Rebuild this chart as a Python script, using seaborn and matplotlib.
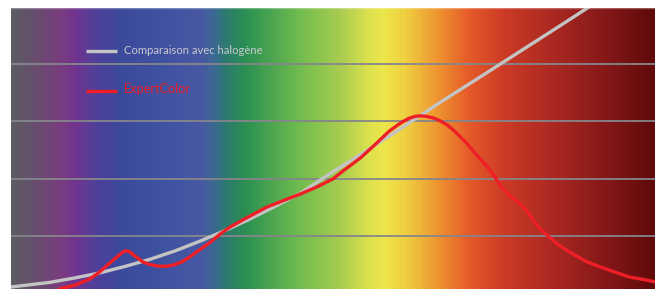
import numpy as np
import pandas as pd
import matplotlib
matplotlib.use("Agg")
import matplotlib.pyplot as plt
import seaborn as sns
from matplotlib.colors import LinearSegmentedColormap

# ── Data (wavelength in nm, relative intensity) ─────────────────────────────
halogen_nm = [380, 404, 420, 435, 451, 466, 482, 497, 513, 528, 544, 560,
              578, 597, 622, 646, 671, 696, 721, 738, 752]
halogen_val = [2.2, 3.8, 5.4, 7.1, 9.4, 11.8, 14.8, 18.1, 21.9, 25.8, 30.3,
               35.0, 41.7, 48.4, 57.4, 66.4, 75.3, 84.3, 93.3, 99.5, 104.4]

expert_nm = [398, 410, 420, 429, 435, 440, 445, 448, 450, 452, 454, 456, 459,
             462, 466, 471, 476, 481, 486, 491, 497, 504, 510, 516, 525, 539,
             560, 570, 580, 587, 597, 606, 615, 622, 627, 631, 634, 638, 642,
             646, 651, 656, 663, 669, 676, 681, 685, 690, 694, 697, 701, 705,
             710, 715, 720, 725, 730, 738, 746, 755, 764, 774, 780]
expert_val = [-4.0, 1.5, 2.9, 5.0, 7.4, 9.9, 12.3, 13.7, 14.6, 14.8, 14.4,
              13.4, 12.2, 10.9, 10.1, 9.5, 9.4, 9.9, 10.9, 12.7, 15.1, 17.9,
              20.7, 23.1, 25.9, 30.1, 34.7, 37.1, 39.9, 43.0, 47.2, 51.8, 56.6,
              59.4, 61.0, 61.7, 61.9, 61.7, 61.2, 60.3, 58.7, 56.3, 52.4, 48.3,
              44.1, 40.2, 36.8, 34.0, 32.2, 30.8, 28.4, 24.9, 21.7, 19.3, 16.9,
              15.1, 13.4, 10.9, 9.2, 7.4, 5.7, 4.7, 4.0]

series_labels = ["Comparaison avec halogène", "ExpertColor"]

# spectrum background colour stops (position 0..1 across the axis)
spectrum_pos = [0.0, 0.03, 0.076, 0.099, 0.130, 0.169, 0.231, 0.293, 0.316,
                0.332, 0.363, 0.402, 0.449, 0.511, 0.557, 0.581, 0.612, 0.640,
                0.664, 0.713, 0.768, 0.837, 0.915, 1.0]
spectrum_col = ["#5c5c62", "#664f6c", "#7a3c80", "#703590", "#50409a",
                "#3c4a9c", "#3f52a0", "#4858a4", "#3a6a92", "#2d7a70",
                "#2a8f52", "#4aa550", "#72bd4e", "#a8cc50", "#dde24e",
                "#ede64a", "#efd040", "#eeb038", "#ee9430", "#e65a2a",
                "#cc3a25", "#ad2a22", "#8a1a1a", "#600a0a"]

X_LIM = (380, 780)
Y_LIM = (1.5, 99.5)

# ── Figure ──────────────────────────────────────────────────────────────────
sns.set_theme(style="white")
plt.rcParams["font.family"] = ["Lato", "DejaVu Sans"]

fig = plt.figure(figsize=(6.64, 2.89), dpi=100)
ax = fig.add_axes([11 / 664, 0, 644 / 664, 281 / 289])

cmap = LinearSegmentedColormap.from_list("spectrum", list(zip(spectrum_pos, spectrum_col)))
ax.imshow(np.linspace(0, 1, 600)[None, :], cmap=cmap, aspect="auto",
          extent=[X_LIM[0], X_LIM[1], Y_LIM[0], Y_LIM[1]], zorder=0)

for yv in [20, 40, 60, 80]:
    ax.axhline(yv, color="#85868c", lw=1.3, zorder=1)

halogen = pd.DataFrame({"nm": halogen_nm, "val": halogen_val})
expert = pd.DataFrame({"nm": expert_nm, "val": expert_val})

sns.lineplot(data=halogen, x="nm", y="val", ax=ax, color="#c4c4c4", lw=2.4,
             sort=False, zorder=3)
sns.lineplot(data=expert, x="nm", y="val", ax=ax, color="#ee1f26", lw=2.4,
             sort=False, zorder=4)
for ln in ax.get_lines():
    ln.set_solid_joinstyle("round")

ax.set_xlim(*X_LIM)
ax.set_ylim(*Y_LIM)
ax.set_xticks([])
ax.set_yticks([])
ax.set_xlabel("")
ax.set_ylabel("")
for side in ["left", "right", "bottom"]:
    ax.spines[side].set_visible(False)
ax.spines["top"].set_color((1, 1, 1, 0.3))
ax.spines["top"].set_linewidth(1)

# legend drawn as text + short lines in axes coordinates
ax.plot([0.117, 0.165], [0.847, 0.847], transform=ax.transAxes,
        color="#c4c4c4", lw=2.4, solid_capstyle="butt", zorder=5)
ax.text(0.176, 0.847, series_labels[0], transform=ax.transAxes,
        color="#c8c8d0", fontsize=8.1, va="center", ha="left", zorder=5)
ax.plot([0.117, 0.165], [0.705, 0.705], transform=ax.transAxes,
        color="#ee1f26", lw=2.4, solid_capstyle="butt", zorder=5)
ax.text(0.176, 0.71, series_labels[1], transform=ax.transAxes,
        color="#ee1f26", fontsize=9.2, va="center", ha="left", zorder=5)

fig.savefig("out.png", dpi=100)
